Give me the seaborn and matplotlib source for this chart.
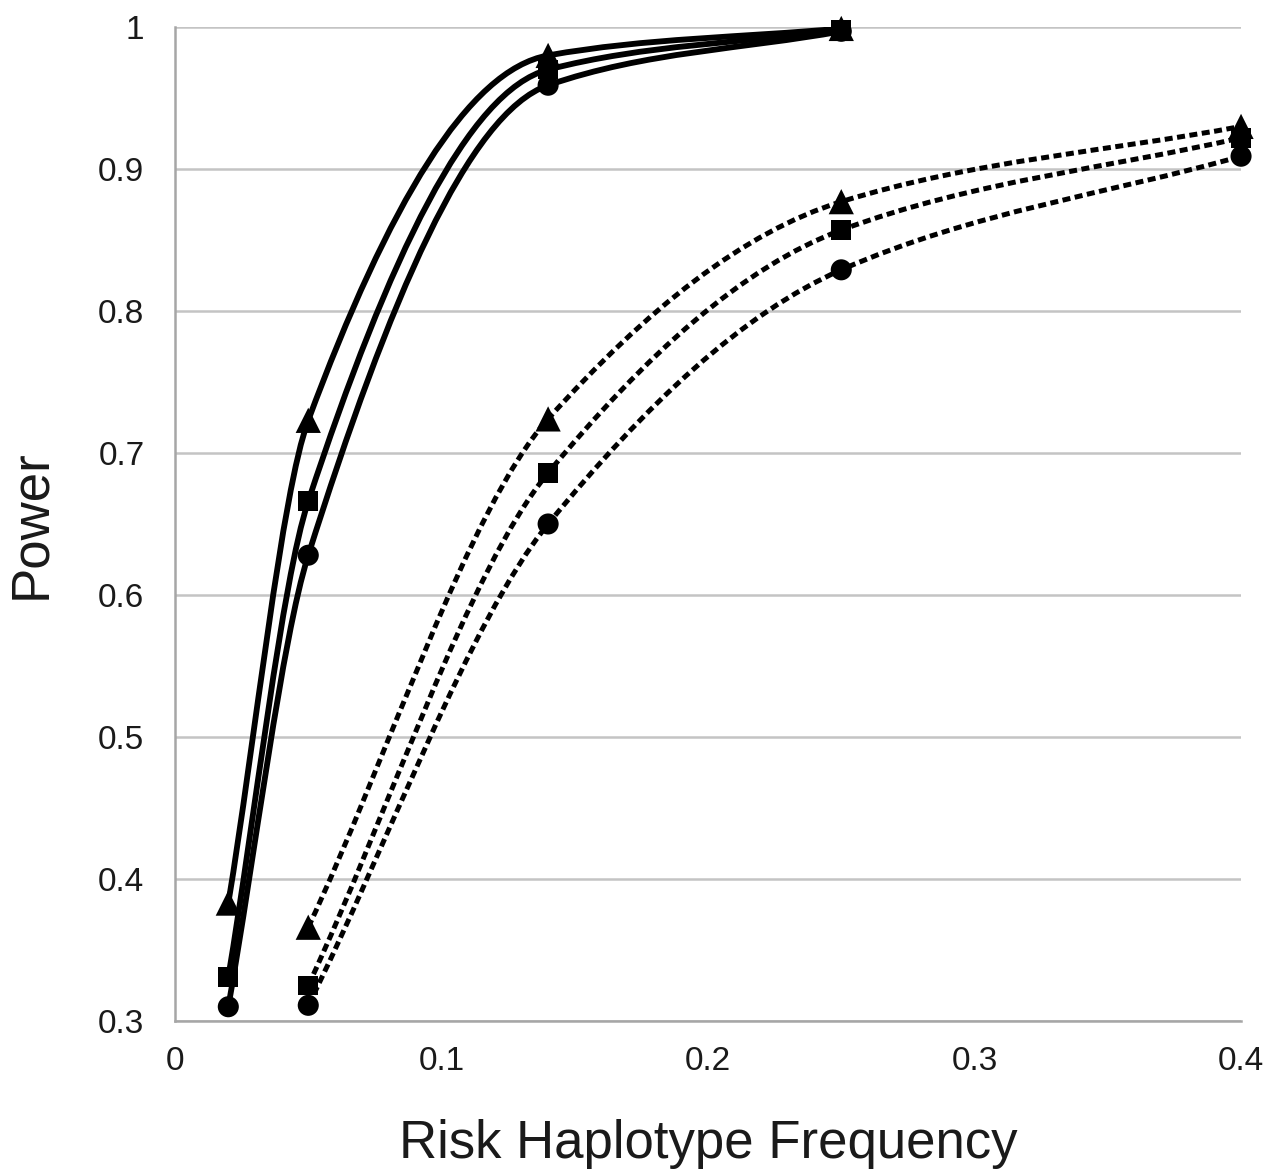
import numpy as np
import pandas as pd
import matplotlib
matplotlib.use("Agg")
import matplotlib.pyplot as plt
import seaborn as sns
from matplotlib.path import Path
from matplotlib.patches import PathPatch

# values
freq_solid = [0.02, 0.05, 0.14, 0.25]
solid_tri = [0.383, 0.723, 0.980, 0.999]
solid_sq = [0.331, 0.666, 0.970, 0.998]
solid_circ = [0.310, 0.628, 0.959, 0.997]

freq_dotted = [0.05, 0.14, 0.25, 0.40]
dotted_tri = [0.366, 0.724, 0.877, 0.930]
dotted_sq = [0.325, 0.686, 0.857, 0.922]
dotted_circ = [0.311, 0.650, 0.829, 0.909]

x_ticks = [0, 0.1, 0.2, 0.3, 0.4]
x_ticklabels = ["0", "0.1", "0.2", "0.3", "0.4"]
y_ticks = [0.3, 0.4, 0.5, 0.6, 0.7, 0.8, 0.9, 1.0]
y_ticklabels = ["0.3", "0.4", "0.5", "0.6", "0.7", "0.8", "0.9", "1"]

rows = []
for group, xs, series in [("solid", freq_solid, [("tri", solid_tri), ("sq", solid_sq), ("circ", solid_circ)]),
                          ("dotted", freq_dotted, [("tri", dotted_tri), ("sq", dotted_sq), ("circ", dotted_circ)])]:
    for shape, ys in series:
        for x, y in zip(xs, ys):
            rows.append({"group": group, "shape": shape, "freq": x, "power": y})
df = pd.DataFrame(rows)

sns.set_style("white")
plt.rcParams["font.family"] = ["Liberation Sans", "DejaVu Sans"]

fig = plt.figure(figsize=(12.83, 11.70), dpi=100)
ax = fig.add_axes([0.1364, 0.1274, 0.8309, 0.8495])


def smooth_path(xs, ys):
    # monotone (pchip-style) tangents inside, secant slope at the ends,
    # drawn as cubic bezier segments
    xs = np.asarray(xs, float)
    ys = np.asarray(ys, float)
    h = np.diff(xs)
    s = np.diff(ys) / h
    n = len(xs)
    d = np.zeros(n)
    for k in range(1, n - 1):
        if s[k - 1] * s[k] <= 0:
            d[k] = 0.0
        else:
            w1 = 2 * h[k] + h[k - 1]
            w2 = h[k] + 2 * h[k - 1]
            d[k] = (w1 + w2) / (w1 / s[k - 1] + w2 / s[k])
    d[0] = s[0]
    d[-1] = s[-1]

    verts = [(xs[0], ys[0])]
    codes = [Path.MOVETO]
    for k in range(n - 1):
        verts += [(xs[k] + h[k] / 3, ys[k] + d[k] * h[k] / 3),
                  (xs[k + 1] - h[k] / 3, ys[k + 1] - d[k + 1] * h[k] / 3),
                  (xs[k + 1], ys[k + 1])]
        codes += [Path.CURVE4] * 3
    return Path(verts, codes)


for (group, shape), sub in df.groupby(["group", "shape"]):
    sub = sub.sort_values("freq")
    if group == "solid":
        patch = PathPatch(smooth_path(sub["freq"].values, sub["power"].values),
                          facecolor="none", edgecolor="black", lw=4.2, zorder=3)
    else:
        patch = PathPatch(smooth_path(sub["freq"].values, sub["power"].values),
                          facecolor="none", edgecolor="black", lw=3.6,
                          linestyle=(0, (1.6, 0.9)), capstyle="butt", zorder=3)
    ax.add_patch(patch)

sns.scatterplot(data=df, x="freq", y="power", style="shape", size="shape",
                markers={"tri": "^", "sq": "s", "circ": "o"},
                sizes={"tri": 330, "sq": 200, "circ": 230},
                color="black", edgecolor="black", linewidth=0,
                legend=False, ax=ax, zorder=4, clip_on=False)

ax.set_xlim(0, 0.4)
ax.set_ylim(0.3, 1.0)
ax.set_xticks(x_ticks)
ax.set_xticklabels(x_ticklabels)
ax.set_yticks(y_ticks)
ax.set_yticklabels(y_ticklabels)

ax.yaxis.grid(True, color="#c4c4c4", lw=1.8)
ax.xaxis.grid(False)
ax.set_axisbelow(True)

for side in ["top", "right"]:
    ax.spines[side].set_visible(False)
for side in ["left", "bottom"]:
    ax.spines[side].set_color("#a6a6a6")
    ax.spines[side].set_linewidth(1.8)

ax.tick_params(axis="both", direction="in", length=13, width=1.5, color="#a6a6a6",
               labelsize=24, labelcolor="#1a1a1a")
ax.tick_params(axis="y", pad=22)
ax.tick_params(axis="x", pad=18)

ax.set_xlabel("Risk Haplotype Frequency", fontsize=38, labelpad=30, color="#1a1a1a")
ax.set_ylabel("Power", fontsize=38, labelpad=30, color="#1a1a1a")

fig.savefig("out.png", dpi=100, facecolor="white")
